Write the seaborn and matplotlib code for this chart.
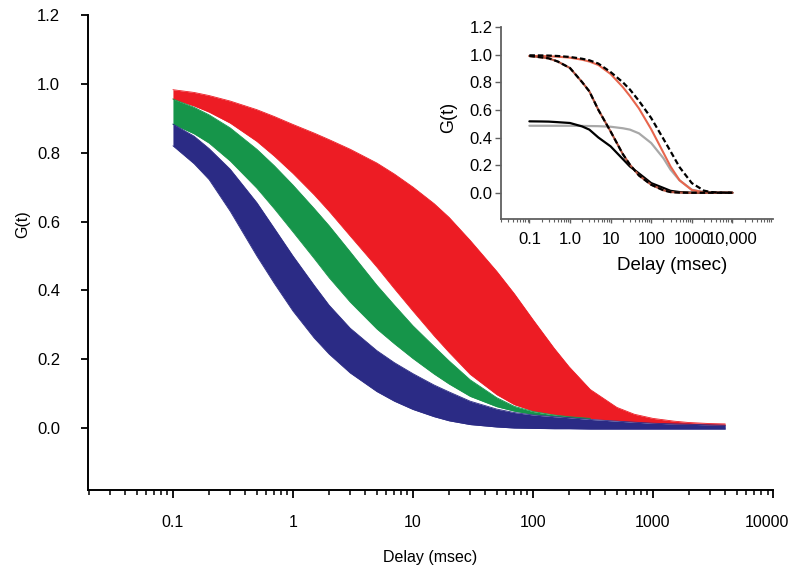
import matplotlib
matplotlib.use("Agg")
import matplotlib.pyplot as plt
import matplotlib.transforms as mtransforms
from matplotlib.ticker import FixedLocator, FixedFormatter, LogLocator, NullFormatter
import seaborn as sns

# ---------------- main chart data (bands) ----------------
delay = [0.1, 0.15, 0.2, 0.3, 0.5, 0.7, 1, 1.5, 2, 3, 5, 7, 10, 15, 20, 30, 50, 70,
         100, 150, 200, 300, 500, 700, 1000, 1500, 2000, 3000, 4000]
red_upper = [0.983, 0.975, 0.966, 0.950, 0.925, 0.905, 0.882, 0.857, 0.838, 0.810, 0.770, 0.738,
             0.700, 0.652, 0.612, 0.545, 0.455, 0.390, 0.315, 0.232, 0.178, 0.112, 0.060, 0.040,
             0.028, 0.020, 0.016, 0.013, 0.012]
red_lower = [0.956, 0.936, 0.918, 0.886, 0.833, 0.790, 0.740, 0.678, 0.630, 0.558, 0.468, 0.405,
             0.340, 0.268, 0.220, 0.156, 0.097, 0.068, 0.050, 0.040, 0.034, 0.028, 0.022, 0.018,
             0.015, 0.012, 0.011, 0.009, 0.008]
green_delay = [0.1, 0.15, 0.2, 0.3, 0.5, 0.7, 1, 1.5, 2, 3, 5, 7, 10, 15, 20, 30, 50, 70,
               100, 150, 200, 300]
green_upper = [0.956, 0.932, 0.910, 0.872, 0.810, 0.762, 0.706, 0.638, 0.588, 0.512, 0.415, 0.357,
               0.297, 0.237, 0.195, 0.140, 0.088, 0.063, 0.048, 0.038, 0.033, 0.028]
green_lower = [0.883, 0.855, 0.828, 0.776, 0.697, 0.637, 0.570, 0.493, 0.437, 0.366, 0.288, 0.245,
               0.202, 0.157, 0.128, 0.092, 0.062, 0.049, 0.040, 0.035, 0.031, 0.027]
blue_upper = [0.883, 0.848, 0.812, 0.752, 0.655, 0.580, 0.500, 0.415, 0.357, 0.290, 0.225, 0.190,
              0.158, 0.125, 0.105, 0.078, 0.055, 0.045, 0.038, 0.033, 0.030, 0.025, 0.020, 0.017,
              0.014, 0.012, 0.011, 0.009, 0.008]
blue_lower = [0.820, 0.768, 0.722, 0.630, 0.500, 0.420, 0.340, 0.262, 0.215, 0.160, 0.106, 0.078,
              0.054, 0.033, 0.021, 0.010, 0.003, 0.000, -0.001, -0.002, -0.002, -0.003, -0.003,
              -0.003, -0.003, -0.003, -0.003, -0.003, -0.003]

main_xticks = [0.1, 1, 10, 100, 1000, 10000]
main_xticklabels = ["0.1", "1", "10", "100", "1000", "10000"]
main_yticks = [0.0, 0.2, 0.4, 0.6, 0.8, 1.0, 1.2]
main_yticklabels = ["0.0", "0.2", "0.4", "0.6", "0.8", "1.0", "1.2"]

# ---------------- inset data (curves) ----------------
inset_delay = [0.1, 0.2, 0.3, 0.5, 1, 2, 3, 5, 10, 20, 30, 50, 100, 200, 300, 500,
               1000, 2000, 3000, 5000, 10000]
slow_dashed = [0.995, 0.994, 0.993, 0.990, 0.983, 0.970, 0.959, 0.935, 0.874, 0.800, 0.747,
               0.665, 0.541, 0.390, 0.300, 0.185, 0.070, 0.015, 0.005, 0.001, 0.0]
slow_red = [0.990, 0.990, 0.988, 0.985, 0.978, 0.963, 0.950, 0.925, 0.860, 0.765, 0.700,
            0.610, 0.460, 0.290, 0.190, 0.090, 0.020, 0.003, 0.0, 0.0, 0.0]
fast_curve = [0.990, 0.980, 0.973, 0.950, 0.903, 0.800, 0.734, 0.600, 0.444, 0.280, 0.203,
              0.125, 0.058, 0.018, 0.005, 0.001, 0.0, 0.0, 0.0, 0.0, 0.0]
half_black = [0.517, 0.516, 0.515, 0.511, 0.505, 0.480, 0.457, 0.400, 0.336, 0.244, 0.190,
              0.140, 0.070, 0.035, 0.014, 0.005, 0.0, 0.0, 0.0, 0.0, 0.0]
half_grey = [0.485, 0.485, 0.485, 0.485, 0.485, 0.484, 0.483, 0.482, 0.478, 0.467, 0.457,
             0.430, 0.360, 0.250, 0.167, 0.090, 0.022, 0.004, 0.0, 0.0, 0.0]

inset_xticks = [0.1, 1, 10, 100, 1000, 10000]
inset_xticklabels = ["0.1", "1.0", "10", "100", "1000", "10,000"]
inset_yticks = [0.0, 0.2, 0.4, 0.6, 0.8, 1.0, 1.2]
inset_yticklabels = ["0.0", "0.2", "0.4", "0.6", "0.8", "1.0", "1.2"]

RED = "#ED1C24"
GREEN = "#16954A"
BLUE = "#2B2B85"

sns.set_theme(style="ticks")
plt.rcParams["font.family"] = ["Liberation Sans", "DejaVu Sans"]
plt.rcParams["text.color"] = "black"
plt.rcParams["axes.labelcolor"] = "black"
plt.rcParams["xtick.color"] = "black"
plt.rcParams["ytick.color"] = "black"

W, H = 800, 586
fig = plt.figure(figsize=(W / 100, H / 100), dpi=100)

# ---------------- main axes ----------------
ax = fig.add_axes([88 / W, (H - 490) / H, 685 / W, 475 / H])
ax.set_xscale("log")

ax.fill_between(delay, red_lower, red_upper, color=RED, lw=0, zorder=2)
ax.fill_between(green_delay, green_lower, green_upper, color=GREEN, lw=0, zorder=3)
ax.fill_between(delay, blue_lower, blue_upper, color=BLUE, lw=0, zorder=4)
for xs, ys, c, z in [(delay, red_upper, RED, 2), (delay, red_lower, RED, 2),
                     (green_delay, green_upper, GREEN, 3), (green_delay, green_lower, GREEN, 3),
                     (delay, blue_upper, BLUE, 4), (delay, blue_lower, BLUE, 4)]:
    sns.lineplot(x=xs, y=ys, ax=ax, color=c, lw=0.6, zorder=z)

ax.set_xlim(0.0196, 10000)
ax.set_ylim(-0.18, 1.2)
sns.despine(ax=ax)
for s in ["left", "bottom"]:
    ax.spines[s].set_linewidth(1.4)
    ax.spines[s].set_color("black")

ax.xaxis.set_major_locator(FixedLocator(main_xticks))
ax.xaxis.set_major_formatter(FixedFormatter(main_xticklabels))
ax.xaxis.set_minor_locator(LogLocator(base=10, subs=range(2, 10), numticks=20))
ax.xaxis.set_minor_formatter(NullFormatter())
ax.yaxis.set_major_locator(FixedLocator(main_yticks))
ax.yaxis.set_major_formatter(FixedFormatter(main_yticklabels))
ax.tick_params(axis="x", which="major", direction="out", length=6, width=1.3, pad=12, labelsize=11.5)
ax.tick_params(axis="x", which="minor", direction="out", length=3.5, width=1.1)
ax.tick_params(axis="y", which="major", direction="out", length=5, width=1.3, pad=15, labelsize=12)
ax.set_xlabel("Delay (msec)", fontsize=11.5)
ax.set_ylabel("G(t)", fontsize=11.5)
ax.xaxis.set_label_coords(0.5, -0.127)
ax.yaxis.set_label_coords(-0.085, 0.56)
last = ax.get_xticklabels()[-1]
last.set_transform(last.get_transform() + mtransforms.ScaledTranslation(-6 / 100, 0, fig.dpi_scale_trans))

# ---------------- inset axes ----------------
ins = fig.add_axes([501 / W, (H - 219) / H, 272 / W, 192 / H])
ins.set_facecolor("none")
ins.set_xscale("log")
sns.lineplot(x=inset_delay, y=half_grey, ax=ins, color="#A8A8A8", lw=1.6)
sns.lineplot(x=inset_delay, y=half_black, ax=ins, color="black", lw=1.6)
sns.lineplot(x=inset_delay, y=slow_red, ax=ins, color="#E8664E", lw=1.5)
sns.lineplot(x=inset_delay, y=fast_curve, ax=ins, color="#B0503C", lw=1.5)
sns.lineplot(x=inset_delay, y=slow_dashed, ax=ins, color="black", lw=1.6, linestyle=(0, (2.5, 1.3)))
sns.lineplot(x=inset_delay, y=fast_curve, ax=ins, color="black", lw=1.6, linestyle=(0, (2.5, 1.3)))

ins.set_xlim(0.02, 100000)
ins.set_ylim(-0.19, 1.2)
sns.despine(ax=ins)
for s in ["left", "bottom"]:
    ins.spines[s].set_linewidth(1.3)
    ins.spines[s].set_color("#606060")
ins.xaxis.set_major_locator(FixedLocator(inset_xticks))
ins.xaxis.set_major_formatter(FixedFormatter(inset_xticklabels))
ins.xaxis.set_minor_locator(LogLocator(base=10, subs=range(2, 10), numticks=20))
ins.xaxis.set_minor_formatter(NullFormatter())
ins.yaxis.set_major_locator(FixedLocator(inset_yticks))
ins.yaxis.set_major_formatter(FixedFormatter(inset_yticklabels))
ins.tick_params(axis="x", which="major", direction="out", length=3, width=1.0, pad=6,
                labelsize=12, color="#606060")
ins.tick_params(axis="x", which="minor", direction="out", length=2, width=0.8, color="#606060")
ins.tick_params(axis="y", which="major", direction="out", length=4, width=1.0, pad=2,
                labelsize=12, color="#606060")
ins.set_xlabel("Delay (msec)", fontsize=13.5, labelpad=0)
ins.set_ylabel("G(t)", fontsize=13)
ins.xaxis.set_label_coords(0.63, -0.2)
ins.yaxis.set_label_coords(-0.16, 0.53)

fig.savefig("out.png", dpi=100)
